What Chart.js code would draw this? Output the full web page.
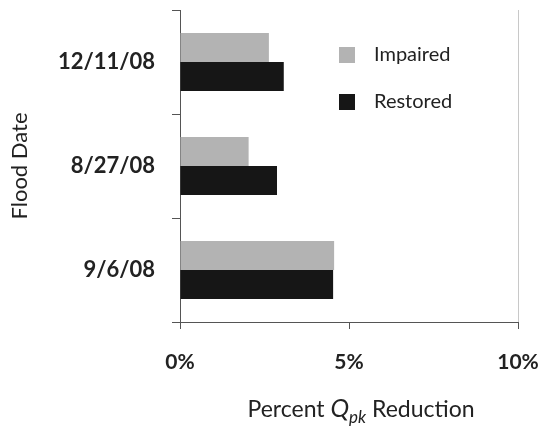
<!DOCTYPE html>
<html lang="en">
  <head>
    <meta charset="UTF-8">
    <title>Flood Date Qpk Reduction</title>
    <script src="https://cdn.jsdelivr.net/npm/chart.js"></script>
    <style>
      html, body { margin: 0; padding: 0; background: #fff; }
      #wrap { width: 541px; height: 426px; }
    </style>
  </head>
  <body>
    <div id="wrap"><canvas id="myChart"></canvas></div>
    <script>
      // datos
      const floodDates = ['12/11/08', '8/27/08', '9/6/08'];
      const impaired = [2.63, 2.03, 4.56];
      const restored = [3.07, 2.87, 4.53];
      const xTicks = [0, 5, 10];

      const FONT = 'Lato, "Open Sans", sans-serif';

      // leyenda dentro del area del grafico
      const legendInside = {
        id: 'legendInside',
        afterDatasetsDraw(chart) {
          const c = chart.ctx;
          c.save();
          c.font = '20px ' + FONT;
          c.textBaseline = 'middle';
          chart.data.datasets.forEach((ds, i) => {
            const y = 55 + i * 47;
            c.fillStyle = ds.backgroundColor;
            c.fillRect(339, y - 8, 16, 16);
            c.fillStyle = '#222';
            c.fillText(ds.label, 374, y);
          });
          c.restore();
        }
      };

      // titulo eje x con subindice
      const xTitle = {
        id: 'xTitle',
        afterDraw(chart) {
          const c = chart.ctx;
          const parts = [
            { t: 'Percent ', f: '23px ' + FONT, dy: 0 },
            { t: 'Q', f: 'italic 25px ' + FONT, dy: 0 },
            { t: 'pk', f: 'italic 17px ' + FONT, dy: 6 },
            { t: ' Reduction', f: '23px ' + FONT, dy: 0 }
          ];
          c.save();
          c.fillStyle = '#222';
          c.textBaseline = 'alphabetic';
          let w = 0;
          parts.forEach(p => { c.font = p.f; w += c.measureText(p.t).width; });
          let x = 361 - w / 2;
          parts.forEach(p => {
            c.font = p.f;
            c.fillText(p.t, x, 417 + p.dy);
            x += c.measureText(p.t).width;
          });
          c.restore();
        }
      };

      const noPad = axis => {
        axis.paddingLeft = 0;
        axis.paddingRight = 0;
        axis.paddingTop = 0;
        axis.paddingBottom = 0;
      };

      const ctx = document.getElementById('myChart');
      let myChart = new Chart(ctx, {
        type: 'bar',
        data: {
          labels: floodDates,
          datasets: [
            { label: 'Impaired', backgroundColor: '#b3b3b3', data: impaired },
            { label: 'Restored', backgroundColor: '#161616', data: restored }
          ]
        },
        options: {
          indexAxis: 'y',
          responsive: true,
          maintainAspectRatio: false,
          animation: false,
          layout: { padding: { top: 10, left: 0, right: 23, bottom: 0 } },
          datasets: { bar: { categoryPercentage: 0.56, barPercentage: 1.0 } },
          plugins: {
            legend: { display: false },
            tooltip: { enabled: false }
          },
          scales: {
            x: {
              min: 0,
              max: 10,
              afterBuildTicks: axis => { axis.ticks = xTicks.map(v => ({ value: v })); },
              ticks: {
                callback: v => v + '%',
                color: '#222',
                padding: 21,
                maxRotation: 0,
                font: { family: FONT, size: 21, weight: 'bold' }
              },
              grid: {
                color: c => (c.tick && c.tick.value === 10) ? '#c8c8c8' : 'rgba(0,0,0,0)',
                tickColor: '#555',
                tickLength: 7
              },
              border: { color: '#555', width: 1 },
              afterFit: axis => { axis.height = 104; noPad(axis); }
            },
            y: {
              offset: true,
              ticks: {
                color: '#222',
                padding: 17,
                font: { family: FONT, size: 22, weight: 'bold' }
              },
              grid: {
                offset: true,
                drawOnChartArea: false,
                tickColor: '#555',
                tickLength: 8
              },
              border: { color: '#555', width: 1 },
              title: {
                display: true,
                text: 'Flood Date',
                color: '#222',
                padding: { top: 7, bottom: 0 },
                font: { family: FONT, size: 22 }
              },
              afterFit: axis => { axis.width = 180; noPad(axis); }
            }
          }
        },
        plugins: [legendInside, xTitle]
      });
    </script>
  </body>
</html>
